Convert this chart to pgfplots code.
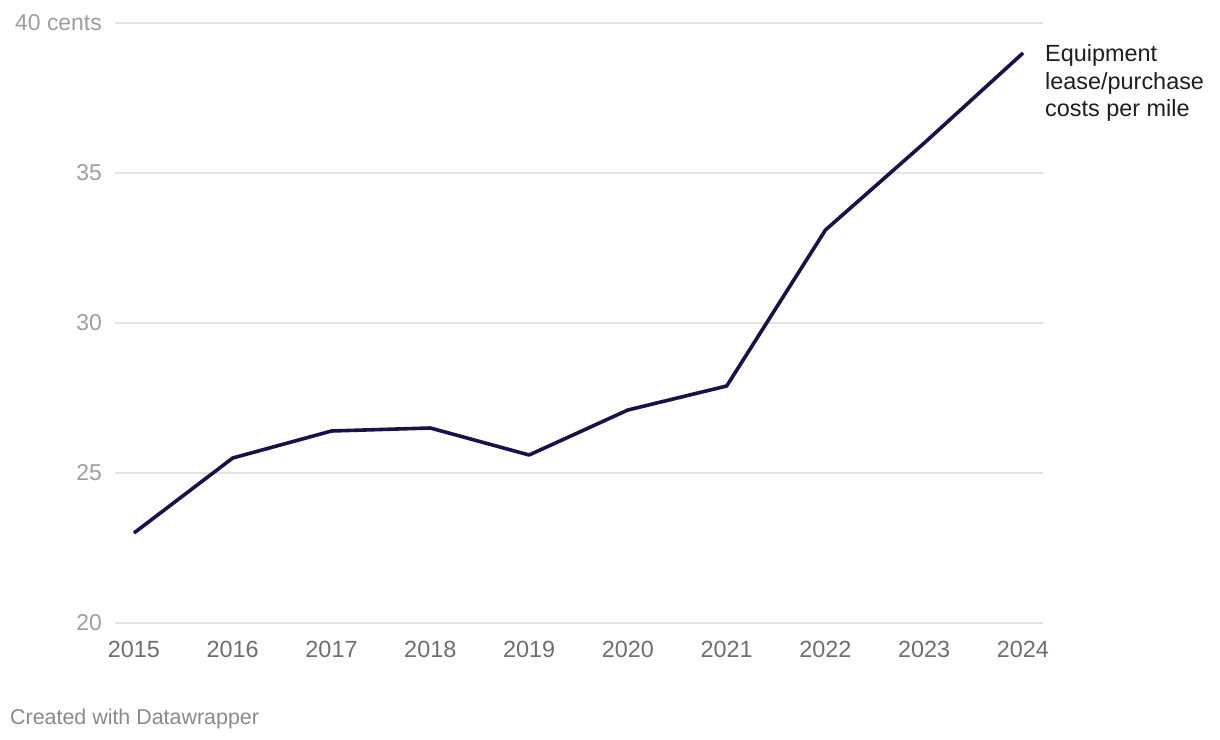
\documentclass[border=0pt]{standalone}
\usepackage{pgfplots}
\pgfplotsset{compat=1.18}
\usepackage{fontspec}
\setmainfont{Liberation Sans}
\definecolor{linecol}{HTML}{15134A}
\definecolor{gridcol}{HTML}{E3E3E3}
\definecolor{ylab}{HTML}{9E9E9E}
\definecolor{xlab}{HTML}{6E6E6E}
\definecolor{foot}{HTML}{8A8A8A}
\definecolor{lab}{HTML}{1E1E1E}
\begin{document}
\begin{tikzpicture}
\useasboundingbox (0bp,0bp) rectangle (1220bp,740bp);
\begin{axis}[
  at={(115bp,117bp)}, anchor=origin,
  scale only axis, width=928bp, height=600bp,
  xmin=2014.808, xmax=2024.202,
  ymin=20, ymax=40,
  axis line style={draw=none},
  ytick={20,25,30,35,40},
  yticklabels={20,25,30,35,40 cents},
  xtick={2015,...,2024},
  xticklabel style={/pgf/number format/1000 sep={}},
  /pgf/number format/assume math mode=true,
  major tick length=0pt,
  tick style={draw=none},
  ymajorgrids, major grid style={gridcol, line width=1.2bp},
  clip=false,
  yticklabel style={anchor=base east, inner sep=0pt, xshift=-13bp, yshift=-8bp, font=\fontsize{23}{26}\selectfont, text=ylab},
  xticklabel style={anchor=base, inner sep=0pt, yshift=-35bp, font=\fontsize{23.5}{26}\selectfont, text=xlab},
]
\addplot[linecol, line width=3.6bp, line join=round] coordinates {
(2015,23.0) (2016,25.5) (2017,26.4) (2018,26.5) (2019,25.6) (2020,27.1) (2021,27.9) (2022,33.1) (2023,36.0) (2024,39.0)
};
\node[anchor=north west, inner sep=0pt, align=left, text=lab, font=\fontsize{23.5}{28}\selectfont, xshift=22bp, yshift=9bp] at (axis cs:2024,39) {Equipment\\lease/purchase\\costs per mile};
\end{axis}
\node[anchor=base west, inner sep=0pt, text=foot, font=\fontsize{21.5}{24}\selectfont] at (10bp,16bp) {Created with Datawrapper};
\end{tikzpicture}
\end{document}
